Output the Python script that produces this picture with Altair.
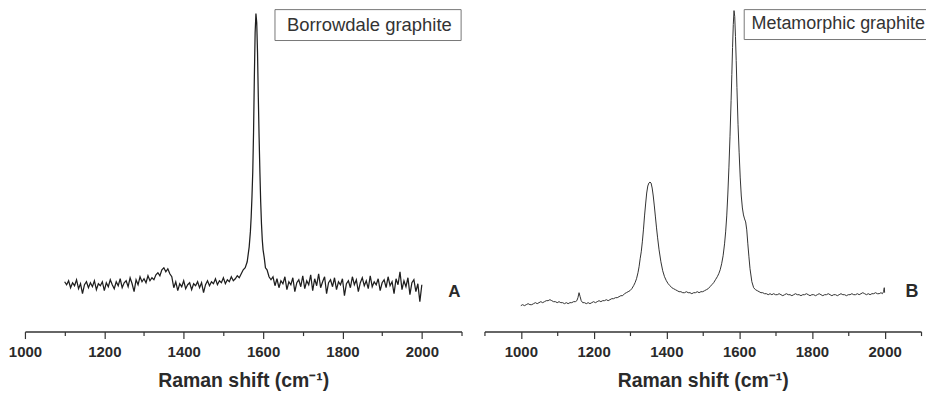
import altair as alt
import pandas as pd

# ---------------- Panel A: Borrowdale graphite ----------------
a_shift = (list(range(1100, 1545, 5))
           + [1545, 1550, 1555, 1560, 1565, 1568, 1570, 1572, 1574, 1576, 1578, 1580,
              1582, 1584, 1586, 1588, 1590, 1592, 1594, 1596, 1598, 1600, 1603, 1606,
              1610, 1615]
           + list(range(1620, 2005, 5)))
a_intensity = [
    50, 47, 51, 44, 49, 46, 52, 43, 48, 38,
    47, 50, 44, 49, 45, 51, 42, 48, 46, 50,
    41, 49, 45, 52, 47, 43, 50, 46, 53, 44,
    49, 51, 45, 54, 48, 40, 52, 47, 55, 50,
    53, 49, 56, 51, 54, 52, 57, 59, 56, 62,
    64, 60, 63, 58, 55, 44, 50, 41, 48, 45,
    51, 43, 47, 49, 42, 48, 46, 50, 44, 49,
    39, 47, 51, 46, 50, 48, 53, 47, 51, 49,
    54, 48, 52, 50, 55, 51, 53, 56, 54,
    # G band
    58, 62, 64, 70, 85, 100, 115, 135, 160, 200, 255, 300,
    319, 310, 280, 235, 195, 160, 130, 108, 92, 82, 74, 64,
    62, 55,
    # high-wavenumber baseline
    52, 55, 46, 53, 44, 51, 48, 55, 42, 50,
    47, 54, 40, 49, 52, 45, 56, 43, 51, 47,
    57, 41, 53, 46, 58, 44, 50, 55, 38, 49,
    52, 45, 54, 42, 50, 47, 53, 36, 48, 51,
    44, 55, 47, 52, 40, 49, 54, 46, 51, 43,
    56, 45, 50, 47, 53, 41, 49, 52, 44, 55,
    46, 50, 38, 53, 47, 60, 42, 51, 45, 54,
    37, 49, 52, 40, 48, 30, 47,
]

# ---------------- Panel B: Metamorphic graphite ----------------
b_shift = (list(range(1000, 1150, 5))
           + [1150, 1154, 1157, 1160, 1163, 1166, 1170]
           + list(range(1175, 1290, 5))
           + [1290, 1295, 1300, 1305, 1310, 1314, 1318, 1322, 1325, 1328, 1331, 1334,
              1337, 1340, 1343, 1346, 1349, 1352, 1355, 1358, 1361, 1364, 1367, 1370,
              1373, 1376, 1380, 1385, 1390, 1395, 1400, 1405, 1410, 1415, 1420, 1425]
           + list(range(1430, 1500, 5))
           + [1500, 1505, 1510, 1515, 1520, 1525, 1530, 1535, 1540, 1544, 1548, 1552,
              1556, 1560, 1563, 1566, 1569, 1572, 1575, 1578, 1580, 1582, 1584, 1586,
              1588, 1590, 1592, 1594, 1597, 1600, 1603, 1606, 1609, 1612, 1615, 1618,
              1621, 1624, 1627, 1630, 1635, 1640, 1645, 1650]
           + list(range(1655, 1995, 5))
           + [1994, 1997, 1999, 2000])
b_intensity = [
    26, 27, 26, 27, 28, 27, 27, 28, 29, 28,
    29, 30, 29, 30, 31, 31, 32, 31, 30, 30,
    29, 30, 29, 29, 28, 29, 28, 29, 29, 30,
    # small band ~1160
    30, 31, 34, 39, 35, 31, 29,
    29, 28, 29, 28, 29, 30, 29, 30, 31, 30,
    31, 31, 32, 31, 32, 33, 33, 34, 34, 35,
    36, 36, 38,
    # D band
    39, 40, 41, 43, 46, 49, 53, 59, 65, 73, 80, 90,
    102, 116, 128, 139, 146, 149, 150, 149, 144, 136, 126, 115,
    104, 94, 82, 70, 61, 55, 51, 48, 46, 44, 43, 42,
    41, 40, 40, 39, 39, 40, 39, 39, 38, 39, 39, 40, 39, 40,
    # G band with D' shoulder
    40, 41, 42, 43, 45, 47, 49, 52, 55, 58, 62, 68,
    76, 88, 100, 116, 138, 165, 196, 232, 258, 285, 308, 322,
    316, 296, 272, 245, 208, 180, 155, 136, 124, 117, 113, 110,
    102, 88, 75, 63, 50, 44, 42, 41,
    # baseline
    40, 39, 39, 38, 38, 37, 38, 37, 38, 37,
    37, 38, 37, 36, 37, 38, 37, 37, 36, 37,
    38, 37, 37, 36, 37, 37, 38, 37, 36, 37,
    37, 36, 37, 38, 37, 36, 37, 37, 38, 37,
    36, 37, 37, 36, 37, 38, 37, 37, 36, 37,
    37, 38, 37, 37, 38, 37, 38, 39, 38, 37,
    38, 37, 38, 38, 39, 38, 38, 39,
    38, 40, 44, 39,
]

tick_label_values = [1000, 1200, 1400, 1600, 1800, 2000]
sample_names = ["Borrowdale graphite", "Metamorphic graphite"]
panel_letters = ["A", "B"]

df_a = pd.DataFrame({"shift": a_shift, "intensity": a_intensity})
df_b = pd.DataFrame({"shift": b_shift, "intensity": b_intensity})

FONT = "Liberation Sans"
W, H = 438, 324
yscale = alt.Scale(domain=[0, 324], nice=False, zero=False)


def make_axis(start):
    return alt.Axis(
        values=list(range(start, 2101, 100)),
        labelExpr="indexof([" + ",".join(str(v) for v in tick_label_values)
                  + "], datum.value) >= 0 ? datum.label : ''",
        format="d",
        tickSize={"condition": {"test": "datum.value % 200 === 0", "value": 7}, "value": 4},
        tickColor="#333", tickWidth=1.2,
        domainColor="#333", domainWidth=1.5,
        grid=False, labelFlush=False, labelOverlap=False, labelBound=False,
        labelFont=FONT, labelFontSize=15, labelFontWeight="bold", labelColor="#2a2a2a",
        labelPadding=6,
        title="Raman shift (cm⁻¹)", titleFont=FONT, titleFontSize=19.5,
        titleFontWeight="bold", titleColor="#2a2a2a", titlePadding=12,
    )


def panel(df, start, name, box, text_pos, text_size, letter, letter_pos, letter_size,
          color, sw):
    xscale = alt.Scale(domain=[start, 2100], nice=False, zero=False)
    xaxis = make_axis(start)
    line = alt.Chart(df).mark_line(color=color, strokeWidth=sw).encode(
        x=alt.X("shift:Q", scale=xscale, axis=xaxis),
        y=alt.Y("intensity:Q", scale=yscale, axis=None),
    )
    box_df = pd.DataFrame({"shift": [box[0]], "x2": [box[1]], "intensity": [box[2]], "y2": [box[3]]})
    rect = alt.Chart(box_df).mark_rect(fill="white", stroke="#777", strokeWidth=1).encode(
        x=alt.X("shift:Q", scale=xscale, axis=xaxis), x2="x2:Q",
        y=alt.Y("intensity:Q", scale=yscale, axis=None), y2="y2:Q",
    )
    txt_df = pd.DataFrame({"shift": [text_pos[0]], "intensity": [text_pos[1]], "t": [name]})
    txt = alt.Chart(txt_df).mark_text(
        align="left", baseline="alphabetic", font=FONT, fontSize=text_size, color="#333"
    ).encode(
        x=alt.X("shift:Q", scale=xscale, axis=xaxis),
        y=alt.Y("intensity:Q", scale=yscale, axis=None),
        text="t:N",
    )
    let_df = pd.DataFrame({"shift": [letter_pos[0]], "intensity": [letter_pos[1]], "t": [letter]})
    let = alt.Chart(let_df).mark_text(
        align="center", baseline="alphabetic", font=FONT, fontSize=letter_size,
        fontWeight="bold", color="#2a2a2a"
    ).encode(
        x=alt.X("shift:Q", scale=xscale, axis=xaxis),
        y=alt.Y("intensity:Q", scale=yscale, axis=None),
        text="t:N",
    )
    return alt.layer(line, rect, txt, let).properties(width=W, height=H)


pa = panel(df_a, 1000, sample_names[0], (1630, 2099, 323, 292), (1660, 302), 18.5,
           panel_letters[0], (2082, 35), 17, "#1e1e1e", 1.25)
pb = panel(df_b, 900, sample_names[1], (1614, 2127, 323, 293), (1634, 303.5), 18,
           panel_letters[1], (2075, 35), 18, "#333", 1)

chart = alt.hconcat(pa, pb, spacing=21).configure_view(stroke=None).properties(
    padding={"left": 0, "top": 0, "right": -6, "bottom": 0}
)

chart.save("out.html", embed_options={"renderer": "svg", "actions": False})
